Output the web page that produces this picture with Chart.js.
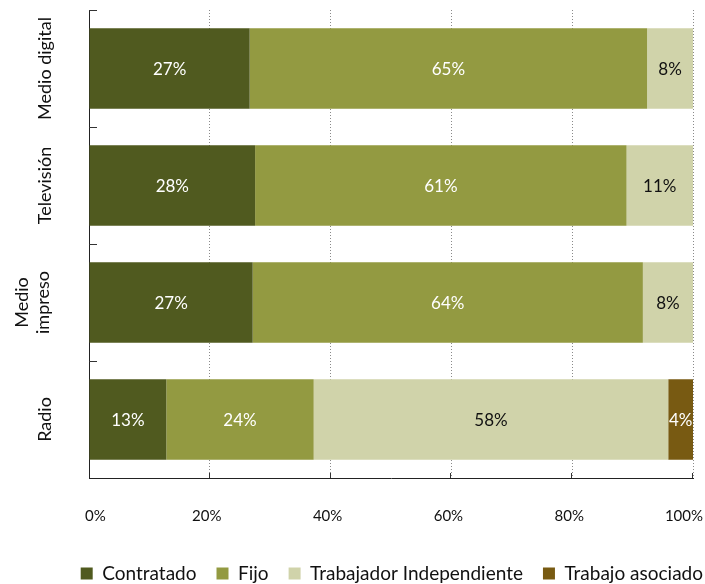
<!DOCTYPE html>
<html>
<head>
<meta charset="utf-8">
<script src="https://cdn.jsdelivr.net/npm/chart.js@4"></script>
<style>
  html, body { margin: 0; padding: 0; background: #fff; }
  #wrap { width: 705px; height: 584px; }
</style>
</head>
<body>
<div id="wrap"><canvas id="barChart"></canvas></div>
<script>
// categories (top to bottom)
const categories = [['Medio digital'], ['Televisión'], ['Medio', 'impreso'], ['Radio']];

// shares in %
const contratado = [26.6, 27.5, 27.1, 12.8];
const fijo = [65.8, 61.5, 64.6, 24.4];
const independiente = [7.6, 11.0, 8.3, 58.7];
const asociado = [0, 0, 0, 4.1];

// printed labels
const contratadoLabels = ['27%', '28%', '27%', '13%'];
const fijoLabels = ['65%', '61%', '64%', '24%'];
const independienteLabels = ['8%', '11%', '8%', '58%'];
const asociadoLabels = ['', '', '', '4%'];

const xTicks = [0, 20, 40, 60, 80, 100];
const xTickLabels = ['0%', '20%', '40%', '60%', '80%', '100%'];

const FONT = 'Lato, "Open Sans", sans-serif';

const barLabels = {
    id: 'barLabels',
    afterDatasetsDraw(chart){
        const ctx = chart.ctx;
        ctx.save();
        ctx.font = '17px ' + FONT;
        ctx.textAlign = 'center';
        ctx.textBaseline = 'middle';
        chart.data.datasets.forEach((ds, di) => {
            const meta = chart.getDatasetMeta(di);
            meta.data.forEach((bar, i) => {
                const txt = ds.valueLabels[i];
                if (!txt) return;
                ctx.fillStyle = ds.labelColor;
                ctx.fillText(txt, (bar.x + bar.base) / 2, bar.y + 1);
            });
        });
        ctx.restore();
    }
};

const axisExtras = {
    id: 'axisExtras',
    afterDraw(chart){
        const ctx = chart.ctx;
        const xs = chart.scales.x;
        const ys = chart.scales.y;
        ctx.save();
        // little inside ticks
        ctx.strokeStyle = '#333';
        ctx.lineWidth = 1;
        const band = (ys.bottom - ys.top) / categories.length;
        categories.forEach((c, i) => {
            const y = Math.round(ys.getPixelForValue(i) - band / 2) + 0.5;
            ctx.beginPath();
            ctx.moveTo(xs.left, y);
            ctx.lineTo(xs.left + 8, y);
            ctx.stroke();
        });
        xTicks.forEach(v => {
            if (v === 0) return;
            const x = Math.round(xs.getPixelForValue(v)) - 0.5;
            ctx.beginPath();
            ctx.moveTo(x, xs.top - 5);
            ctx.lineTo(x, xs.top);
            ctx.stroke();
        });

        // x tick labels
        ctx.fillStyle = '#111';
        ctx.font = '15px ' + FONT;
        ctx.textAlign = 'center';
        ctx.textBaseline = 'middle';
        xTicks.forEach((v, i) => {
            const w = ctx.measureText(xTickLabels[i]).width;
            let cx = xs.getPixelForValue(v) - 3;
            cx = Math.max(cx, 85 + w / 2);
            cx = Math.min(cx, 703 - w / 2);
            ctx.fillText(xTickLabels[i], cx, 516);
        });

        // category labels, rotated
        ctx.font = '18px ' + FONT;
        categories.forEach((lines, i) => {
            const y = ys.getPixelForValue(i);
            ctx.save();
            ctx.translate(lines.length > 1 ? 33 : 45, y);
            ctx.rotate(-Math.PI / 2);
            lines.forEach((ln, k) => {
                ctx.fillText(ln, 0, (k - (lines.length - 1) / 2) * 21);
            });
            ctx.restore();
        });
        ctx.restore();
    }
};

const data = {
    labels: categories.map(c => c.join(' ')),
    datasets: [
        { label: 'Contratado', data: contratado, backgroundColor: '#505a1f', valueLabels: contratadoLabels, labelColor: '#fff' },
        { label: 'Fijo', data: fijo, backgroundColor: '#939a41', valueLabels: fijoLabels, labelColor: '#fff' },
        { label: 'Trabajador Independiente', data: independiente, backgroundColor: '#d0d3aa', valueLabels: independienteLabels, labelColor: '#111' },
        { label: 'Trabajo asociado', data: asociado, backgroundColor: '#785a12', valueLabels: asociadoLabels, labelColor: '#fff' }
    ]
};

const config = {
    type: 'bar',
    data: data,
    options: {
        indexAxis: 'y',
        responsive: true,
        maintainAspectRatio: false,
        animation: false,
        datasets: { bar: { categoryPercentage: 1, barPercentage: 0.69, borderWidth: 0 } },
        layout: { padding: { top: 10, right: -18, bottom: -9, left: 0 } },
        scales: {
            x: {
                stacked: true,
                min: 0,
                max: 100,
                ticks: { display: false, stepSize: 20 },
                grid: {
                    drawTicks: false,
                    color: c => (c.tick && c.tick.value === 0) ? 'rgba(0,0,0,0)' : '#8a8a8a',
                    lineWidth: 1
                },
                border: { display: true, color: '#222', width: 1, dash: [1, 2] },
                afterFit(scale){ scale.height = 66; scale.paddingRight = 12; scale.paddingLeft = 0; }
            },
            y: {
                stacked: true,
                ticks: { display: false },
                grid: { display: false, drawTicks: false },
                border: { display: true, color: '#222', width: 1 },
                afterFit(scale){ scale.width = 89; }
            }
        },
        plugins: {
            legend: {
                position: 'bottom',
                align: 'end',
                labels: {
                    boxWidth: 12,
                    boxHeight: 12,
                    padding: 20,
                    color: '#111',
                    font: { family: FONT, size: 19 }
                }
            },
            tooltip: { enabled: false }
        }
    },
    plugins: [barLabels, axisExtras]
};

document.addEventListener('DOMContentLoaded', () => {
    new Chart(document.getElementById('barChart'), config);
});
</script>
</body>
</html>
